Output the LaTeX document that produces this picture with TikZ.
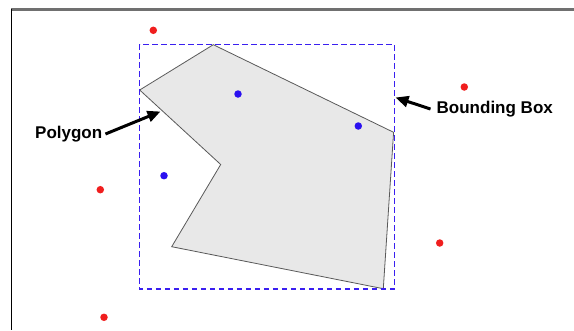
\documentclass[tikz,border=0pt]{standalone}
\usepackage{fontspec}
\setmainfont{Liberation Sans}
\usetikzlibrary{arrows.meta}
\definecolor{boxblue}{HTML}{3A1FF0}
\definecolor{dotred}{HTML}{F01E1E}
\definecolor{dotblue}{HTML}{2A10F0}
\definecolor{polyfill}{HTML}{E8E8E8}
\definecolor{framegray}{HTML}{707070}
\tikzset{
  reddot/.style={circle,fill=dotred,inner sep=0pt,minimum size=7.5pt},
  bluedot/.style={circle,fill=dotblue,inner sep=0pt,minimum size=7.5pt},
  lbl/.style={font=\fontsize{17}{20}\selectfont\bfseries,inner sep=0pt},
  callout/.style={line width=3pt,-{Triangle[length=13pt,width=11pt]}},
  bbox/.style={draw=boxblue,line width=1.4pt,dash pattern=on 5.5pt off 3.5pt},
}
\begin{document}
\begin{tikzpicture}[x=1pt,y=-1pt]
\useasboundingbox (0,0) rectangle (574,330);
% frame
\draw[color=framegray,line width=2.2pt] (11,9.5) -- (574,9.5);
\draw[black,line width=1.6pt] (11.5,9) -- (11.5,330);
% polygon
\filldraw[fill=polyfill,draw=black!65,line width=0.8pt]
  (139.7,90) -- (213.3,44.7) -- (393.6,132.3) -- (383.3,288.7) -- (171.7,246.7) -- (220.7,164.5) -- cycle;
% bounding box
\draw[bbox] (139.5,44.3) rectangle (394.3,289);
% dots
\node[bluedot] (b1) at (238,94) {};
\node[bluedot] (b2) at (358.3,126) {};
\node[bluedot] (b3) at (164,175.7) {};
\node[reddot] (r1) at (153.3,30.3) {};
\node[reddot] (r2) at (464.3,87) {};
\node[reddot] (r3) at (100.3,189.7) {};
\node[reddot] (r4) at (104,317.3) {};
\node[reddot] (r5) at (439.7,243) {};
% labels
\node[lbl,anchor=west] (poly) at (35,134) {Polygon};
\node[lbl,anchor=west] (bb) at (436.5,109) {Bounding Box};
\coordinate (ptip) at (160.5,111.5);
\coordinate (btip) at (395.5,97.5);
\draw[callout] (poly.east) ++(3pt,0) -- (ptip);
\draw[callout] (bb.west) ++(-6pt,0) -- (btip);
\end{tikzpicture}
\end{document}
